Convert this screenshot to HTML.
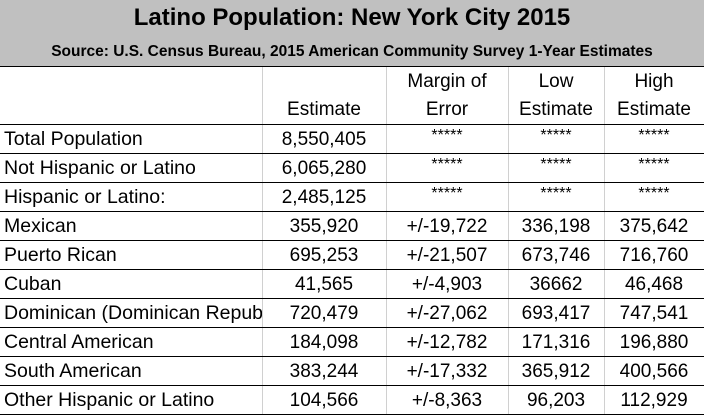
<!DOCTYPE html>
<html><head><meta charset="utf-8"><style>
body{margin:0;width:704px;height:416px;background:#fff;overflow:hidden;font-family:"Liberation Sans",sans-serif;position:relative}
.band{position:absolute;left:0;top:0;width:704px;height:66px;background:#c0c0c0}
.title{position:absolute;left:0;width:704px;top:4px;text-align:center;font-weight:bold;font-size:24px;color:#000}
.sub{position:absolute;left:0;width:704px;top:43px;text-align:center;font-weight:bold;font-size:15.5px}
.h{position:absolute;height:1px;left:0;width:704px;background:#000}
.v{position:absolute;width:1px;top:67px;height:348px;background:#d0d0d0}
.c{position:absolute;font-size:19px;white-space:nowrap;overflow:hidden;text-align:center;line-height:29px;height:29px}
.hd{position:absolute;font-size:19px;text-align:center;line-height:28px}
</style></head><body>
<div class="band"></div>
<div class="title">Latino Population: New York City 2015</div>
<div class="sub">Source: U.S. Census Bureau, 2015 American Community Survey 1-Year Estimates</div>
<div class="h" style="top:66px"></div>
<div class="v" style="left:262px"></div><div class="v" style="left:386px"></div><div class="v" style="left:508px"></div><div class="v" style="left:604px"></div>
<div class="hd" style="left:262px;width:124px;top:96px">Estimate</div>
<div class="hd" style="left:386px;width:122px;top:68px">Margin of<br>Error</div>
<div class="hd" style="left:508px;width:96px;top:68px">Low<br>Estimate</div>
<div class="hd" style="left:604px;width:100px;top:68px">High<br>Estimate</div>
<div id="rows"></div>
<script>
const labels=["Total Population","Not Hispanic or Latino","Hispanic or Latino:","Mexican","Puerto Rican","Cuban","Dominican (Dominican Republic)","Central American","South American","Other Hispanic or Latino"];
const estimates=["8,550,405","6,065,280","2,485,125","355,920","695,253","41,565","720,479","184,098","383,244","104,566"];
const margins=["*****","*****","*****","+/-19,722","+/-21,507","+/-4,903","+/-27,062","+/-12,782","+/-17,332","+/-8,363"];
const lows=["*****","*****","*****","336,198","673,746","36662","693,417","171,316","365,912","96,203"];
const highs=["*****","*****","*****","375,642","716,760","46,468","747,541","196,880","400,566","112,929"];
const cols=[[4,258,'left'],[262,124,'center'],[386,122,'center'],[508,96,'center'],[604,100,'center']];
const root=document.getElementById('rows');
labels.forEach((l,i)=>{
  const top=124+i*29;
  const line=document.createElement('div');line.className='h';line.style.top=top+'px';root.appendChild(line);
  const vals=[l,estimates[i],margins[i],lows[i],highs[i]];
  vals.forEach((v,j)=>{
    const d=document.createElement('div');d.className='c';
    
    
    d.style.left=cols[j][0]+'px';d.style.width=cols[j][1]+'px';d.style.textAlign=cols[j][2];
    d.style.top=(top+1)+'px';
    if(j===0){d.style.fontSize='19.5px';}
    if(v==='*****'){d.style.fontSize='16px';d.style.lineHeight='22px';}
    d.textContent=v;root.appendChild(d);
  });
});
const last=document.createElement('div');last.className='h';last.style.top=(124+labels.length*29)+'px';root.appendChild(last);
</script>
</body></html>
